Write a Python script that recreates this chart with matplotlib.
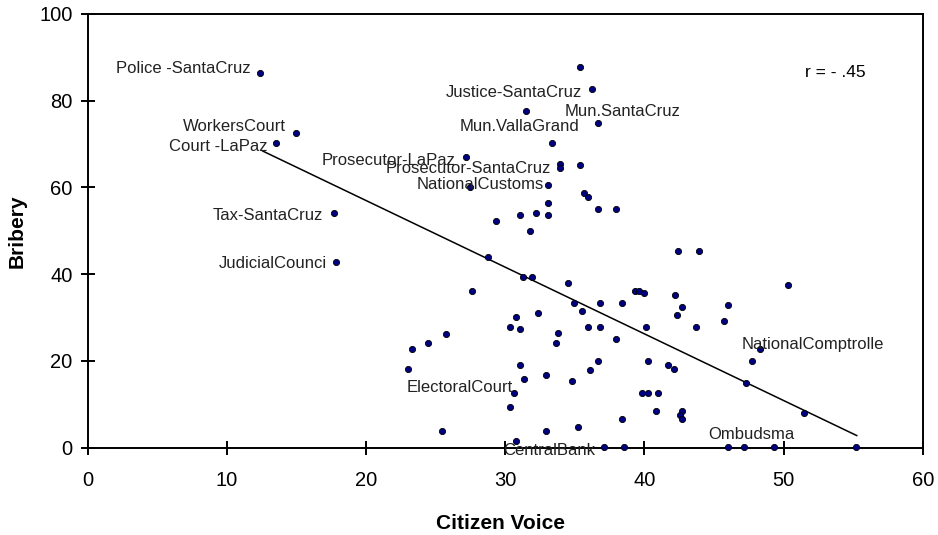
import matplotlib
matplotlib.use('Agg')
import matplotlib.pyplot as plt
import numpy as np

plt.rcParams['font.family'] = ['Liberation Sans', 'DejaVu Sans']

# Data (citizen voice, bribery)
voice = [12.39, 14.97, 13.54, 17.70, 17.84, 35.37, 36.23, 31.49, 36.66, 33.36,
         27.18, 33.93, 33.93, 35.37, 27.47, 33.07, 35.66, 35.94, 33.07, 36.66,
         37.95, 29.34, 31.06, 32.21, 33.07, 31.78, 42.40, 43.89, 28.76, 31.30,
         31.92, 34.51, 27.61, 39.30, 39.60, 39.96, 42.21, 34.94, 36.80, 38.38,
         35.51, 42.69, 46.00, 30.77, 32.35, 42.36, 45.71, 30.34, 31.06, 35.94,
         36.80, 40.11, 43.70, 33.79, 33.64, 37.95, 48.29, 47.72, 31.06, 36.66,
         40.25, 41.69, 42.12, 36.09, 32.93, 31.35, 34.79, 47.29, 30.63, 39.82,
         40.25, 40.97, 30.34, 40.83, 42.69, 42.55, 42.69, 38.38, 32.93, 35.22,
         30.77, 37.09, 38.53, 46.00, 47.14, 49.30, 55.19, 51.45, 50.30, 23.30,
         24.45, 25.74, 23.02, 25.46]
bribery = [86.5, 72.6, 70.3, 54.2, 42.7, 87.8, 82.7, 77.6, 74.9, 70.3,
           67.1, 65.3, 64.4, 65.2, 60.2, 60.6, 58.8, 57.9, 56.5, 55.1,
           55.1, 52.3, 53.7, 54.2, 53.7, 50.0, 45.4, 45.4, 44.0, 39.4,
           39.4, 38.0, 36.2, 36.2, 36.1, 35.7, 35.3, 33.4, 33.4, 33.4,
           31.6, 32.5, 33.0, 30.2, 31.1, 30.7, 29.3, 27.9, 27.4, 27.9,
           27.9, 27.9, 27.9, 26.5, 24.2, 25.1, 22.8, 20.1, 19.1, 20.1,
           20.1, 19.1, 18.2, 17.8, 16.8, 15.9, 15.4, 15.0, 12.7, 12.7,
           12.7, 12.7, 9.4, 8.5, 8.5, 7.6, 6.7, 6.7, 3.9, 4.8,
           1.6, 0.2, 0.2, 0.2, 0.2, 0.2, 0.2, 8.1, 37.6, 22.8,
           24.2, 26.1, 18.2, 3.9]

# fitted line, end points as drawn
trend_x = [12.58, 55.24]
trend_y = [68.4, 2.8]

# label text, index of the point it belongs to
labels = ['Police -SantaCruz', 'WorkersCourt', 'Court -LaPaz', 'Tax-SantaCruz',
          'JudicialCounci', 'Justice-SantaCruz', 'Mun.SantaCruz', 'Mun.VallaGrand',
          'Prosecutor-LaPaz', 'Prosecutor-SantaCruz', 'NationalCustoms',
          'ElectoralCourt', 'CentralBank', 'NationalComptrolle', 'Ombudsma']
label_idx = [0, 1, 2, 3, 4, 6, 8, 8, 10, 12, 15, 68, 81, 56, 85]
# pixel offsets and alignment of each label
label_off = [(-9, 4), (-10, 6), (-9, -4), (-11, -3), (-9, -1), (-10, -4),
             (-33, 11), (-19, -4), (-10, -4), (-9, 0), (-4, 0), (-1, 5),
             (-9, -4), (-18, 4), (21, 12)]
label_ha = ['right'] * 6 + ['left'] + ['right'] * 6 + ['left', 'right']

fig = plt.figure(figsize=(9.38, 5.35), dpi=100)
ax = fig.add_axes([0.0933, 0.1632, 0.8907, 0.8107])

ax.plot(trend_x, trend_y, color='black', lw=1.1)
ax.scatter(voice, bribery, s=20, c='#000080', edgecolors='black',
           linewidths=0.6, zorder=3, clip_on=False)

for name, i, off, ha in zip(labels, label_idx, label_off, label_ha):
    ax.annotate(name, (voice[i], bribery[i]), xytext=off,
                textcoords='offset pixels', ha=ha, va='center',
                fontsize=12, color='#222222')

ax.text(0.895, 0.865, 'r = - .45', transform=ax.transAxes,
        ha='center', va='center', fontsize=12.5)

ax.set_xlim(0, 60)
ax.set_ylim(0, 100)
ax.set_xticks(np.arange(0, 61, 10))
ax.set_yticks(np.arange(0, 101, 20))
ax.tick_params(direction='inout', length=9.4, width=1.4, labelsize=14.5)
ax.tick_params(axis='x', pad=12)
ax.tick_params(axis='y', pad=6)
for sp in ax.spines.values():
    sp.set_linewidth(1.4)

ax.set_xlabel('Citizen Voice', fontsize=15, fontweight='bold')
ax.set_ylabel('Bribery', fontsize=15, fontweight='bold')
ax.xaxis.set_label_coords(0.494, -0.153)
ax.yaxis.set_label_coords(-0.0724, 0.5)

fig.savefig('out.png', dpi=100)
